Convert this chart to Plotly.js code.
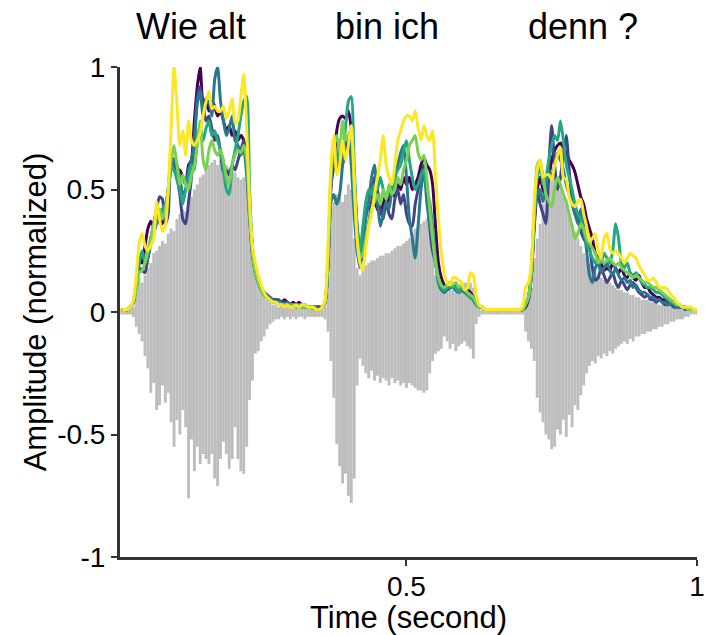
<!DOCTYPE html>
<html>
<head>
<meta charset="utf-8">
<script src="https://cdn.plot.ly/plotly-3.0.1.min.js"></script>
<style>html,body{margin:0;padding:0;background:#fff}#chart{width:705px;height:635px}</style>
</head>
<body>
<div id="chart"></div>
<script>
// Sample times (seconds)
const time = [
0.01,0.015,0.02,0.025,0.03,0.035,0.04,0.045,0.05,0.055,
0.06,0.065,0.07,0.075,0.08,0.085,0.09,0.095,0.1,0.105,
0.11,0.115,0.12,0.125,0.13,0.135,0.14,0.145,0.15,0.155,
0.16,0.165,0.17,0.175,0.18,0.185,0.19,0.195,0.2,0.205,
0.21,0.215,0.22,0.225,0.23,0.235,0.24,0.245,0.25,0.255,
0.26,0.265,0.27,0.275,0.28,0.285,0.29,0.295,0.3,0.305,
0.31,0.315,0.32,0.325,0.33,0.335,0.34,0.345,0.35,0.355,
0.36,0.365,0.37,0.375,0.38,0.385,0.39,0.395,0.4,0.405,
0.41,0.415,0.42,0.425,0.43,0.435,0.44,0.445,0.45,0.455,
0.46,0.465,0.47,0.475,0.48,0.485,0.49,0.495,0.5,0.505,
0.51,0.515,0.52,0.525,0.53,0.535,0.54,0.545,0.55,0.555,
0.56,0.565,0.57,0.575,0.58,0.585,0.59,0.595,0.6,0.605,
0.61,0.615,0.62,0.625,0.63,0.635,0.64,0.645,0.65,0.655,
0.66,0.665,0.67,0.675,0.68,0.685,0.69,0.695,0.7,0.705,
0.71,0.715,0.72,0.725,0.73,0.735,0.74,0.745,0.75,0.755,
0.76,0.765,0.77,0.775,0.78,0.785,0.79,0.795,0.8,0.805,
0.81,0.815,0.82,0.825,0.83,0.835,0.84,0.845,0.85,0.855,
0.86,0.865,0.87,0.875,0.88,0.885,0.89,0.895,0.9,0.905,
0.91,0.915,0.92,0.925,0.93,0.935,0.94,0.945,0.95,0.955,
0.96,0.965,0.97,0.975,0.98,0.985,0.99,0.995,1.0];

// Waveform: positive and negative peak per sample window
const waveMax = [
0.01,0.01,0.01,0.01,0.02,0.08,0.14,0.12,0.15,0.18,
0.2,0.24,0.25,0.27,0.29,0.28,0.32,0.34,0.33,0.38,
0.4,0.42,0.41,0.45,0.47,0.5,0.52,0.55,0.56,0.58,
0.6,0.61,0.62,0.6,0.62,0.61,0.6,0.59,0.58,0.57,
0.55,0.54,0.55,0.54,0.45,0.3,0.2,0.13,0.1,0.07,
0.05,0.04,0.03,0.03,0.02,0.03,0.02,0.02,0.03,0.02,
0.02,0.03,0.02,0.02,0.02,0.02,0.01,0.02,0.01,0.01,
0.02,0.15,0.42,0.45,0.48,0.47,0.45,0.48,0.52,0.5,
0.3,0.18,0.15,0.17,0.19,0.2,0.21,0.21,0.22,0.23,
0.23,0.24,0.24,0.25,0.26,0.27,0.27,0.28,0.29,0.3,
0.32,0.34,0.35,0.36,0.37,0.38,0.34,0.28,0.15,0.12,
0.1,0.08,0.08,0.09,0.09,0.1,0.1,0.11,0.12,0.12,
0.12,0.1,0.05,0.02,0.01,0.01,0.01,0.01,0.01,0.01,
0.01,0.01,0.01,0.01,0.01,0.01,0.01,0.01,0.01,0.04,
0.07,0.1,0.22,0.3,0.36,0.44,0.48,0.52,0.56,0.55,
0.54,0.5,0.47,0.44,0.4,0.36,0.33,0.3,0.27,0.24,
0.22,0.2,0.18,0.16,0.15,0.14,0.13,0.12,0.12,0.11,
0.1,0.09,0.09,0.08,0.08,0.07,0.07,0.06,0.06,0.05,
0.05,0.05,0.04,0.04,0.04,0.03,0.03,0.03,0.03,0.02,
0.02,0.02,0.02,0.01,0.01,0.01,0.01,0.01,0.01];
const waveMin = [
-0.01,-0.01,-0.01,-0.01,-0.02,-0.06,-0.09,-0.12,-0.18,-0.23,
-0.33,-0.29,-0.4,-0.38,-0.3,-0.37,-0.33,-0.45,-0.55,-0.44,
-0.5,-0.4,-0.47,-0.76,-0.52,-0.65,-0.55,-0.62,-0.58,-0.6,
-0.62,-0.58,-0.68,-0.71,-0.6,-0.53,-0.58,-0.64,-0.6,-0.47,
-0.6,-0.65,-0.66,-0.55,-0.36,-0.28,-0.17,-0.16,-0.12,-0.1,
-0.07,-0.05,-0.04,-0.03,-0.03,-0.02,-0.03,-0.02,-0.03,-0.02,
-0.03,-0.02,-0.02,-0.03,-0.02,-0.02,-0.02,-0.02,-0.02,-0.02,
-0.03,-0.08,-0.2,-0.35,-0.54,-0.63,-0.7,-0.66,-0.75,-0.78,
-0.68,-0.3,-0.19,-0.22,-0.25,-0.27,-0.24,-0.28,-0.26,-0.29,
-0.27,-0.28,-0.3,-0.27,-0.29,-0.28,-0.3,-0.29,-0.31,-0.29,
-0.3,-0.31,-0.32,-0.32,-0.33,-0.32,-0.25,-0.2,-0.17,-0.16,
-0.15,-0.1,-0.12,-0.15,-0.13,-0.16,-0.14,-0.13,-0.12,-0.14,
-0.15,-0.19,-0.05,-0.02,-0.01,-0.01,-0.01,-0.01,-0.01,-0.01,
-0.01,-0.01,-0.01,-0.01,-0.01,-0.01,-0.01,-0.01,-0.01,-0.08,
-0.12,-0.15,-0.2,-0.35,-0.41,-0.45,-0.5,-0.52,-0.56,-0.55,
-0.48,-0.5,-0.44,-0.51,-0.42,-0.47,-0.38,-0.4,-0.34,-0.3,
-0.25,-0.22,-0.2,-0.21,-0.18,-0.19,-0.17,-0.18,-0.16,-0.17,
-0.15,-0.14,-0.13,-0.12,-0.13,-0.11,-0.12,-0.1,-0.1,-0.09,
-0.09,-0.08,-0.08,-0.07,-0.07,-0.06,-0.06,-0.05,-0.05,-0.04,
-0.04,-0.03,-0.03,-0.03,-0.02,-0.02,-0.01,-0.01,-0.01];

// Amplitude envelopes (6 versions)
const env1 = [
0.01,0.01,0.01,0.02,0.04,0.12,0.22,0.2,0.27,0.34,
0.37,0.35,0.4,0.38,0.36,0.42,0.5,0.62,0.6,0.56,
0.58,0.55,0.52,0.6,0.62,0.78,0.92,1.0,0.85,0.87,
0.82,0.86,0.84,0.8,0.82,0.78,0.74,0.76,0.72,0.74,
0.7,0.72,0.7,0.6,0.4,0.24,0.16,0.12,0.09,0.07,
0.06,0.05,0.05,0.05,0.04,0.04,0.05,0.04,0.03,0.04,
0.03,0.04,0.03,0.03,0.02,0.02,0.02,0.02,0.02,0.02,
0.04,0.2,0.52,0.6,0.74,0.79,0.8,0.79,0.82,0.75,
0.55,0.35,0.25,0.3,0.4,0.43,0.42,0.45,0.42,0.4,
0.44,0.48,0.45,0.5,0.47,0.52,0.5,0.55,0.52,0.55,
0.5,0.52,0.55,0.6,0.63,0.6,0.58,0.52,0.35,0.2,
0.14,0.11,0.09,0.1,0.11,0.1,0.08,0.09,0.1,0.09,
0.08,0.06,0.04,0.02,0.02,0.01,0.01,0.01,0.01,0.01,
0.01,0.01,0.01,0.01,0.01,0.01,0.01,0.01,0.01,0.02,
0.05,0.15,0.35,0.5,0.55,0.5,0.48,0.55,0.62,0.66,
0.68,0.69,0.67,0.65,0.62,0.6,0.57,0.52,0.47,0.44,
0.38,0.34,0.3,0.24,0.22,0.2,0.17,0.18,0.17,0.2,
0.18,0.16,0.18,0.15,0.14,0.16,0.14,0.13,0.15,0.12,
0.1,0.1,0.08,0.07,0.06,0.06,0.05,0.05,0.04,0.04,
0.03,0.03,0.02,0.02,0.02,0.01,0.01,0.01,0.01];
const env2 = [
0.01,0.01,0.01,0.02,0.04,0.1,0.18,0.17,0.16,0.22,
0.3,0.36,0.42,0.47,0.46,0.36,0.4,0.63,0.62,0.55,
0.48,0.38,0.36,0.45,0.55,0.7,0.88,0.92,0.84,0.78,
0.8,0.75,0.7,0.72,0.65,0.57,0.58,0.56,0.6,0.58,
0.62,0.66,0.7,0.62,0.42,0.26,0.17,0.13,0.1,0.08,
0.07,0.06,0.05,0.05,0.05,0.04,0.04,0.04,0.03,0.03,
0.03,0.03,0.03,0.02,0.02,0.02,0.02,0.02,0.02,0.02,
0.04,0.2,0.5,0.62,0.58,0.63,0.6,0.66,0.7,0.68,
0.48,0.3,0.2,0.24,0.3,0.36,0.45,0.55,0.5,0.42,
0.38,0.45,0.4,0.38,0.46,0.5,0.44,0.48,0.4,0.36,
0.35,0.44,0.5,0.56,0.6,0.5,0.35,0.25,0.2,0.14,
0.1,0.08,0.1,0.12,0.11,0.09,0.08,0.1,0.09,0.07,
0.06,0.05,0.03,0.02,0.02,0.01,0.01,0.01,0.01,0.01,
0.01,0.01,0.01,0.01,0.01,0.01,0.01,0.01,0.01,0.03,
0.06,0.15,0.38,0.5,0.44,0.4,0.36,0.6,0.76,0.6,
0.5,0.55,0.65,0.72,0.58,0.45,0.4,0.38,0.33,0.3,
0.28,0.26,0.18,0.13,0.14,0.18,0.15,0.12,0.14,0.16,
0.12,0.1,0.13,0.11,0.09,0.11,0.12,0.1,0.08,0.07,
0.06,0.07,0.05,0.05,0.04,0.05,0.04,0.03,0.03,0.03,
0.02,0.02,0.02,0.02,0.01,0.01,0.01,0.01,0.01];
const env3 = [
0.01,0.01,0.01,0.02,0.04,0.1,0.2,0.24,0.21,0.22,
0.28,0.32,0.36,0.38,0.42,0.4,0.5,0.58,0.62,0.6,
0.55,0.48,0.5,0.58,0.62,0.7,0.85,0.9,0.8,0.85,
0.86,0.8,0.95,1.0,0.86,0.78,0.72,0.75,0.8,0.7,
0.68,0.64,0.66,0.56,0.38,0.23,0.16,0.12,0.1,0.08,
0.07,0.06,0.05,0.04,0.04,0.04,0.03,0.04,0.03,0.03,
0.03,0.03,0.02,0.03,0.02,0.02,0.02,0.02,0.01,0.02,
0.04,0.2,0.45,0.48,0.44,0.48,0.6,0.7,0.72,0.6,
0.4,0.25,0.18,0.28,0.38,0.45,0.55,0.6,0.45,0.35,
0.4,0.45,0.42,0.5,0.55,0.6,0.65,0.68,0.55,0.38,
0.3,0.22,0.35,0.5,0.58,0.45,0.36,0.3,0.2,0.12,
0.09,0.08,0.09,0.1,0.1,0.09,0.08,0.09,0.08,0.07,
0.06,0.05,0.03,0.02,0.02,0.01,0.01,0.01,0.01,0.01,
0.01,0.01,0.01,0.01,0.01,0.01,0.01,0.01,0.01,0.03,
0.06,0.18,0.4,0.48,0.5,0.45,0.5,0.58,0.55,0.6,
0.65,0.62,0.58,0.52,0.48,0.45,0.4,0.36,0.42,0.35,
0.25,0.15,0.12,0.18,0.2,0.16,0.18,0.2,0.17,0.15,
0.18,0.15,0.13,0.14,0.12,0.13,0.1,0.11,0.09,0.08,
0.08,0.07,0.06,0.06,0.05,0.05,0.04,0.04,0.03,0.03,
0.03,0.02,0.02,0.02,0.01,0.01,0.01,0.01,0.01];
const env4 = [
0.01,0.01,0.01,0.02,0.04,0.1,0.2,0.25,0.2,0.24,
0.3,0.33,0.38,0.4,0.42,0.44,0.48,0.6,0.58,0.54,
0.5,0.44,0.5,0.55,0.6,0.58,0.72,0.75,0.7,0.75,
0.78,0.72,0.74,0.7,0.66,0.58,0.5,0.48,0.6,0.66,
0.72,0.8,0.86,0.88,0.5,0.26,0.17,0.12,0.09,0.07,
0.06,0.05,0.04,0.04,0.04,0.03,0.03,0.03,0.03,0.03,
0.02,0.03,0.02,0.02,0.02,0.02,0.02,0.01,0.01,0.02,
0.04,0.22,0.55,0.7,0.6,0.7,0.65,0.75,0.86,0.88,
0.6,0.35,0.25,0.35,0.45,0.5,0.48,0.52,0.5,0.55,
0.5,0.46,0.5,0.48,0.55,0.58,0.6,0.66,0.7,0.62,
0.55,0.5,0.52,0.56,0.58,0.5,0.45,0.35,0.22,0.14,
0.1,0.09,0.1,0.11,0.1,0.1,0.08,0.1,0.09,0.07,
0.06,0.05,0.03,0.02,0.02,0.01,0.01,0.01,0.01,0.01,
0.01,0.01,0.01,0.01,0.01,0.01,0.01,0.01,0.01,0.03,
0.06,0.17,0.4,0.55,0.6,0.52,0.55,0.62,0.68,0.72,
0.7,0.78,0.7,0.6,0.55,0.5,0.44,0.4,0.38,0.33,
0.28,0.25,0.22,0.2,0.22,0.2,0.24,0.22,0.2,0.25,
0.36,0.3,0.2,0.18,0.2,0.16,0.15,0.16,0.14,0.12,
0.11,0.1,0.1,0.09,0.08,0.08,0.07,0.06,0.05,0.04,
0.04,0.03,0.03,0.02,0.02,0.01,0.01,0.01,0.01];
const env5 = [
0.01,0.01,0.01,0.02,0.04,0.09,0.16,0.17,0.2,0.25,
0.3,0.36,0.4,0.42,0.38,0.42,0.5,0.62,0.68,0.6,
0.52,0.56,0.52,0.5,0.56,0.6,0.68,0.78,0.62,0.58,
0.66,0.7,0.66,0.64,0.66,0.62,0.55,0.52,0.6,0.64,
0.66,0.65,0.68,0.62,0.4,0.24,0.16,0.12,0.09,0.07,
0.06,0.05,0.04,0.04,0.03,0.03,0.03,0.03,0.02,0.03,
0.02,0.02,0.02,0.02,0.02,0.02,0.01,0.01,0.01,0.02,
0.04,0.22,0.55,0.68,0.72,0.65,0.78,0.7,0.72,0.75,
0.5,0.3,0.22,0.24,0.3,0.36,0.42,0.45,0.48,0.44,
0.5,0.46,0.52,0.48,0.5,0.55,0.52,0.58,0.62,0.68,
0.7,0.72,0.65,0.62,0.64,0.55,0.42,0.3,0.2,0.14,
0.11,0.1,0.11,0.12,0.11,0.12,0.1,0.11,0.1,0.08,
0.07,0.06,0.04,0.02,0.02,0.01,0.01,0.01,0.01,0.01,
0.01,0.01,0.01,0.01,0.01,0.01,0.01,0.01,0.01,0.03,
0.06,0.16,0.4,0.6,0.62,0.55,0.48,0.45,0.43,0.5,
0.55,0.52,0.48,0.45,0.4,0.35,0.3,0.32,0.36,0.34,
0.3,0.28,0.26,0.24,0.2,0.22,0.2,0.21,0.22,0.2,
0.19,0.2,0.18,0.17,0.16,0.15,0.14,0.15,0.14,0.13,
0.12,0.12,0.11,0.1,0.1,0.09,0.08,0.07,0.06,0.05,
0.04,0.03,0.03,0.02,0.02,0.01,0.01,0.01,0.01];
const env6 = [
0.01,0.01,0.01,0.02,0.05,0.15,0.28,0.32,0.27,0.25,
0.27,0.3,0.45,0.38,0.33,0.35,0.5,0.75,1.0,0.85,
0.68,0.74,0.64,0.78,0.7,0.68,0.7,0.73,0.8,0.86,
0.9,0.83,0.84,0.82,0.82,0.84,0.79,0.82,0.87,0.77,
0.78,0.88,0.97,0.75,0.45,0.27,0.2,0.15,0.11,0.08,
0.06,0.05,0.04,0.04,0.03,0.03,0.02,0.03,0.02,0.02,
0.03,0.02,0.03,0.03,0.02,0.02,0.02,0.01,0.01,0.02,
0.05,0.28,0.6,0.72,0.56,0.6,0.7,0.62,0.68,0.76,
0.55,0.3,0.2,0.17,0.26,0.35,0.4,0.48,0.55,0.62,
0.72,0.6,0.55,0.52,0.6,0.7,0.74,0.78,0.8,0.8,
0.78,0.82,0.75,0.7,0.76,0.72,0.7,0.74,0.55,0.38,
0.24,0.16,0.12,0.11,0.14,0.14,0.13,0.12,0.09,0.1,
0.16,0.15,0.07,0.03,0.02,0.01,0.01,0.01,0.01,0.01,
0.01,0.01,0.01,0.01,0.01,0.01,0.01,0.01,0.02,0.1,
0.12,0.2,0.45,0.58,0.62,0.55,0.56,0.56,0.54,0.6,
0.64,0.67,0.55,0.54,0.47,0.44,0.43,0.45,0.46,0.4,
0.35,0.29,0.3,0.32,0.25,0.22,0.3,0.32,0.26,0.24,
0.25,0.24,0.22,0.2,0.22,0.24,0.23,0.22,0.19,0.17,
0.15,0.13,0.13,0.14,0.12,0.1,0.1,0.1,0.09,0.07,
0.06,0.04,0.03,0.02,0.02,0.02,0.02,0.01,0.01];

const envelopes = [env1, env2, env3, env4, env5, env6];
const envColors = ['#440154', '#414487', '#2a788e', '#22a884', '#7ad151', '#fde725'];

const wordLabels = ['Wie alt', 'bin ich', 'denn ?'];
const wordTimes = [0.13, 0.466, 0.803];

const xTickVals = [0.5, 1];
const xTickText = ['0.5', '1'];
const yTickVals = [-1, -0.5, 0, 0.5, 1];
const yTickText = ['-1', '-0.5', '0', '0.5', '1'];

// Build waveform as vertical segments
const wx = [], wy = [];
for (let i = 0; i < time.length; i++) {
  wx.push(time[i], time[i], null);
  wy.push(waveMin[i], waveMax[i], null);
}

const FONT = 'Liberation Sans, Arial, sans-serif';
const traces = [{
  type: 'scatter', mode: 'lines', x: wx, y: wy,
  line: {color: '#bdbdbd', width: 2.9}, connectgaps: false,
  hoverinfo: 'skip', showlegend: false
}];
envelopes.forEach((e, k) => {
  traces.push({
    type: 'scatter', mode: 'lines', x: time, y: e,
    line: {color: envColors[k], width: 3, shape: 'spline', smoothing: 0.6},
    showlegend: false
  });
});

const annotations = wordLabels.map((w, k) => ({
  text: w, x: wordTimes[k], xref: 'x', y: 1.082, yref: 'paper',
  xanchor: 'center', yanchor: 'middle', showarrow: false,
  font: {family: FONT, size: 36, color: '#000'}
}));

const layout = {
  width: 705, height: 635,
  margin: {l: 120, r: 8, t: 67, b: 78},
  paper_bgcolor: '#fff', plot_bgcolor: '#fff',
  showlegend: false,
  font: {family: FONT, color: '#000'},
  xaxis: {
    range: [0.007, 1.0], tickmode: 'array', tickvals: xTickVals, ticktext: xTickText,
    ticks: 'outside', ticklen: 6, tickwidth: 2, tickcolor: '#333',
    ticklabeloverflow: 'allow', ticklabelstandoff: -4,
    showline: true, linecolor: '#333', linewidth: 3, mirror: false,
    showgrid: false, zeroline: false,
    tickfont: {family: FONT, size: 28, color: '#000'},
    title: {text: 'Time (second)', font: {family: FONT, size: 31, color: '#000'}, standoff: 0}
  },
  yaxis: {
    range: [-1, 1], tickmode: 'array', tickvals: yTickVals, ticktext: yTickText,
    ticks: 'outside', ticklen: 6, tickwidth: 2, tickcolor: '#333',
    showline: true, linecolor: '#333', linewidth: 3,
    showgrid: false, zeroline: false,
    tickfont: {family: FONT, size: 28, color: '#000'},
    title: {text: 'Amplitude (normalized)', font: {family: FONT, size: 31, color: '#000'}, standoff: 2}
  },
  annotations: annotations
};

Plotly.newPlot('chart', traces, layout, {displayModeBar: false, staticPlot: true});
</script>
</body>
</html>
